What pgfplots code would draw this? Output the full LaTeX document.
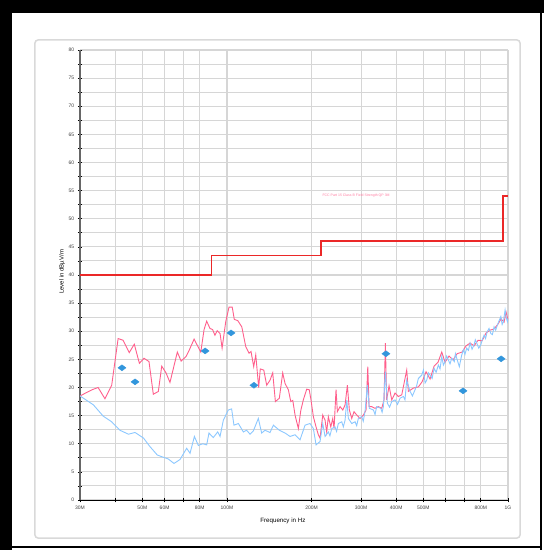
\documentclass[border=0pt]{standalone}
\usepackage{pgfplots}
\pgfplotsset{compat=1.18}
\usepackage{fontspec}
\setmainfont{Liberation Sans}
\definecolor{pk}{RGB}{255,95,140}
\definecolor{lb}{RGB}{140,200,255}
\definecolor{lim}{RGB}{235,40,40}
\definecolor{dia}{RGB}{50,150,220}
\begin{document}
\begin{tikzpicture}
\useasboundingbox (-80pt,-50pt) rectangle (464pt,500pt);
% frame and panel
\fill[black] (-80pt,487pt) rectangle (464pt,500pt);
\fill[black] (-80pt,-50pt) rectangle (-68pt,500pt);
\fill[black] (460pt,-50pt) rectangle (462pt,500pt);
\fill[black] (-80pt,-48pt) rectangle (462pt,-46pt);
\draw[gray!30, line width=1.5pt, fill=white, rounded corners=3pt] (-45pt,-38pt) rectangle (440pt,460pt);
\begin{axis}[
 scale only axis, width=428pt, height=450pt,
 xmode=log, xmin=30, xmax=1000, ymin=0, ymax=80,
 axis x line=bottom, axis y line=left,
 x axis line style={-, black, line width=0.8pt},
 y axis line style={-, black!60, line width=2.4pt},
 xtick={30,50,60,80,100,200,300,400,500,800,1000},
 xticklabels={30M,50M,60M,80M,100M,200M,300M,400M,500M,800M,1G},
 minor xtick={40,70,600,700},
 ytick={0,5,...,80},
 minor ytick={2.5,7.5,...,77.5},
 grid=both,
 major grid style={gray!32, line width=1.1pt},
 minor grid style={gray!32, line width=1.1pt},
 tick align=center, major tick length=4.5pt, minor tick length=4.5pt,
 tick style={black, line width=0.7pt},
 ticklabel style={font=\fontsize{5}{6}\selectfont, text=black!75},
 /pgf/number format/assume math mode=true,
 title={FCC Part 15.209 Radiated Emissions Class B 30MHz-1GHz 3m},
 title style={font=\fontsize{5}{6}\selectfont, at={(axis description cs:0.364,1.078)}, anchor=center},
 xlabel={Frequency in Hz},
 xlabel style={font=\fontsize{6.2}{7}\selectfont, at={(axis description cs:0.474,-0.047)}, anchor=center},
 ylabel={Level in dB\textmu V/m},
 ylabel style={font=\fontsize{6}{7}\selectfont, at={(axis description cs:-0.042,0.507)}, anchor=center, rotate=0},
]
% peak trace (pink)
\addplot[pk, line width=0.9pt] coordinates {
(30,18.5) (33.1,19.6) (34.8,20.0) (36.8,18.0) (38.9,20.4) (41.0,28.7) (42.7,28.4)
(44.9,26.2) (46.8,27.7) (48.8,24.3) (50.7,25.2) (52.8,24.6) (54.7,18.8) (57.0,19.3)
(58.6,23.8) (60.7,22.6) (62.7,20.9) (66.6,26.3) (68.7,24.7) (71.5,25.5) (73.5,26.7)
(76.4,28.6) (80.7,26.3) (82.9,30.3) (84.7,31.8) (87.0,30.5) (88.9,30.3) (90.6,29.3)
(92.3,30.1) (94.5,29.6) (96.1,27.0) (99.0,31.7) (101.7,34.3) (104.4,34.3) (106.2,32.1)
(109.2,31.9) (112.9,30.8) (116.6,27.3) (119.8,26.1) (121.8,26.4) (124.5,23.7) (126.6,25.8)
(129.7,20.0) (131.4,23.3) (135.2,23.1) (138.5,20.4) (142.3,21.3) (145.5,22.6) (148.7,17.5)
(153.6,18.1) (157.9,22.6) (161.0,20.7) (165.4,19.6) (168.7,17.5) (171.5,17.7) (174.7,15.1)
(179.5,12.7) (183.1,15.9) (187.0,17.8) (192.2,19.7) (196.3,19.6) (199.1,17.8) (203.0,14.8)
(207.5,13.0) (211.4,11.6) (214.4,11.0) (219.2,15.1) (223.4,14.2) (226.4,12.1) (229.5,14.8)
(234.1,13.0) (237.9,14.5) (240.5,12.7) (244.4,19.6) (247.1,15.7) (252.6,16.6) (258.3,16.0)
(263.2,16.9) (268.2,20.4) (272.6,16.0) (278.0,14.5) (283.3,15.7) (289.6,15.1) (297.5,14.5)
(305.8,15.1) (312.5,16.0) (317.0,23.7) (320.4,16.6) (327.5,16.6) (336.5,16.3) (345.6,16.6)
(355.4,16.3) (362.2,17.8) (366.2,27.9) (370.1,17.8) (377.4,20.3) (385.8,17.8) (396.4,19.0)
(407.3,18.4) (418.8,18.7) (436.1,23.1) (442.1,19.3) (460.9,19.9) (479.8,20.1) (494.5,21.0)
(511.1,22.8) (528.1,21.5) (545.7,23.8) (563.8,24.5) (581.1,26.3) (597.1,24.5) (617.0,25.6)
(637.6,24.9) (658.8,26.0) (686.3,26.3) (709.2,27.4) (732.9,27.9) (757.3,27.4) (782.6,28.4)
(808.6,28.3) (835.6,29.7) (863.5,30.2) (892.3,30.4) (922.0,31.3) (944.9,32.2) (968.4,31.6)
(984.4,33.4) (1000,32.0)
};
% average trace (light blue)
\addplot[lb, line width=0.9pt] coordinates {
(30,18.5) (33.5,16.9) (36.3,14.9) (38.9,13.9) (41.6,12.4) (44.6,11.7) (47.1,12.0)
(50.5,11.0) (53.2,9.5) (56.5,8.0) (58.6,7.7) (61.8,7.3) (64.8,6.5) (68.1,7.2)
(71.9,9.2) (73.9,8.3) (76.6,11.3) (79.1,9.7) (82.0,10.0) (84.7,9.8) (86.3,11.9)
(89.4,11.1) (92.7,12.1) (94.5,11.3) (97.1,14.2) (101.1,16.0) (103.9,16.2) (105.9,13.3)
(109.8,13.6) (114.4,12.1) (117.5,12.4) (120.8,11.7) (124.2,12.3) (129.3,14.5) (132.9,11.9)
(136.6,12.4) (142.3,12.0) (146.3,13.3) (153.6,12.4) (161.0,11.9) (167.7,11.3) (174.7,11.6)
(182.0,10.7) (189.6,13.3) (197.5,13.6) (203.0,12.7) (207.5,9.8) (214.4,10.4) (219.2,13.6)
(223.4,11.3) (229.5,12.1) (232.5,11.4) (236.0,12.7) (242.4,13.0) (245.5,12.2) (249.1,13.6)
(256.1,13.9) (259.5,13.0) (263.2,14.2) (266.9,17.8) (270.4,14.5) (278.0,13.6) (285.7,13.9)
(289.5,13.2) (293.4,14.5) (301.7,14.8) (305.5,14.0) (309.9,15.7) (315.9,20.4) (321.1,16.3)
(332.0,16.0) (336.5,15.2) (341.0,16.6) (352.6,16.3) (356.5,15.6) (360.3,16.6) (366.2,22.8)
(372.2,17.2) (379.0,16.5) (385.8,17.5) (396.4,17.8) (404.5,17.0) (413.0,18.1) (424.6,18.4)
(430.0,17.8) (436.1,21.3) (448.3,19.3) (457.0,18.5) (467.0,19.6) (473.0,20.3) (479.8,21.6)
(493.3,22.2) (500.1,23.1) (507.0,20.8) (513.7,21.3) (521.0,22.6) (528.1,22.2) (537.0,21.6)
(545.7,23.4) (555.0,22.7) (565.1,24.0) (573.0,23.3) (581.1,25.5) (589.0,24.0) (597.1,24.6)
(605.0,25.6) (613.4,24.9) (622.0,24.2) (630.8,25.2) (644.0,24.6) (650.0,26.0) (657.0,25.2)
(671.2,23.7) (684.6,25.8) (694.1,26.7) (703.0,25.9) (713.0,27.0) (723.0,26.6) (732.9,27.9)
(745.0,26.8) (757.3,27.6) (765.0,28.5) (774.0,27.9) (787.0,27.0) (800.3,27.6) (811.0,28.6)
(822.0,29.3) (832.0,28.7) (843.1,29.9) (856.0,30.5) (868.7,29.6) (880.0,29.4) (892.3,30.8)
(904.0,30.2) (916.7,31.1) (930.0,31.9) (942.8,32.6) (953.0,31.2) (963.4,31.7) (970.0,32.8)
(976.4,33.8) (986.0,32.4) (995.3,31.7) (1000,32.3)
};
% limit line
\addplot[draw=lim, line width=1.6pt, line join=miter, forget plot] coordinates {
(30,40) (88,40) (88,43.5) (216,43.5) (216,46) (960,46) (960,54) (1000,54)
};
% quasi-peak points
\addplot[only marks, mark=diamond*, mark size=4pt, mark options={rotate=90, fill=dia, draw=dia}] coordinates {
(42.3,23.5) (47.1,21.0) (83.6,26.5) (103.4,29.7) (124.8,20.4) (368,26.0) (692,19.4) (945,25.1)
};
\node[text=pk!80, font=\fontsize{3.5}{4}\selectfont] at (axis cs:288,54.2) {FCC Part 15 Class B Field Strength QP 3M};
\end{axis}
\end{tikzpicture}
\end{document}
